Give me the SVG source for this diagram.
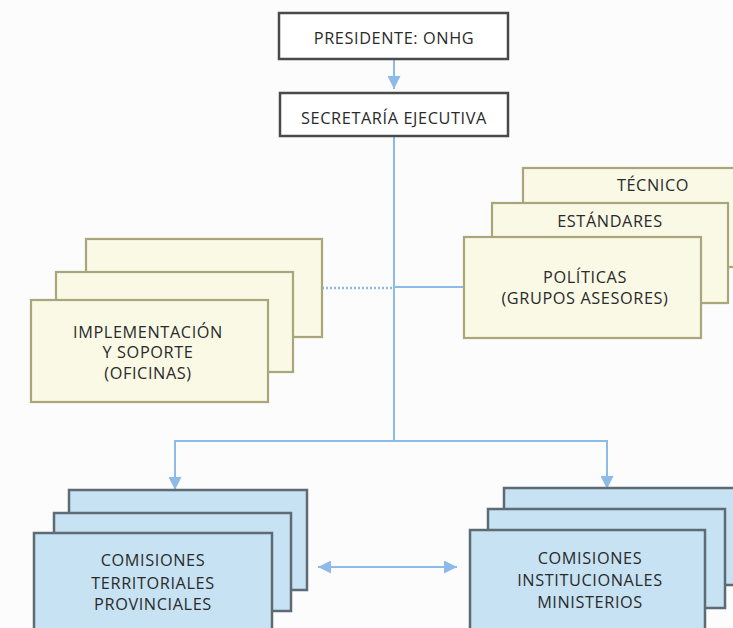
<svg xmlns="http://www.w3.org/2000/svg" width="733" height="628" viewBox="0 0 733 628">
<defs>
<style>
.top{fill:#ffffff;stroke:#4a4a4a;stroke-width:2.5}
.beige{fill:#f9f9e6;stroke:#aaa67c;stroke-width:2.2}
.blue{fill:#c6e2f3;stroke:#5e6a74;stroke-width:2.5}
.ln{fill:none;stroke:#8cbbea;stroke-width:2}
.dot{fill:none;stroke:#8cbbea;stroke-width:2.5;stroke-dasharray:2 2}
text{font-family:"Open Sans","Liberation Sans",sans-serif;font-size:16.3px;letter-spacing:0.6px;fill:#2a2a2a;text-anchor:middle}
</style>
<marker id="ahb" viewBox="0 0 10 10" refX="10" refY="5" markerWidth="14" markerHeight="13" orient="auto-start-reverse" markerUnits="userSpaceOnUse">
<path d="M0,0 L10,5 L0,10 Z" fill="#8cbbea"/>
</marker>
</defs>
<rect width="733" height="628" fill="#fbfcfb"/>
<g id="connectors">
<line class="ln" x1="394" y1="59" x2="394" y2="89" marker-end="url(#ahb)"/>
<line class="ln" x1="394" y1="136" x2="394" y2="441"/>
<line class="dot" x1="322" y1="288" x2="394" y2="288"/>
<line class="ln" x1="394" y1="287" x2="464" y2="287"/>
<polyline class="ln" points="175,475 175,441 607,441 607,475"/>
<line class="ln" x1="175" y1="470" x2="175" y2="490" marker-end="url(#ahb)"/>
<line class="ln" x1="607" y1="470" x2="607" y2="489" marker-end="url(#ahb)"/>
<line class="ln" x1="318" y1="567" x2="457" y2="567" marker-start="url(#ahb)" marker-end="url(#ahb)"/>
</g>
<g id="presidente">
<rect class="top" x="279" y="13" width="229" height="46"/>
<text x="394" y="44">PRESIDENTE: ONHG</text>
</g>
<g id="secretaria">
<rect class="top" x="280" y="93" width="228" height="43"/>
<text x="394" y="124">SECRETARÍA EJECUTIVA</text>
</g>
<g id="implementacion">
<rect class="beige" x="86" y="239" width="236" height="98"/>
<rect class="beige" x="56" y="272" width="237" height="100"/>
<rect class="beige" x="31" y="300" width="237" height="102"/>
<text x="148" y="338">IMPLEMENTACIÓN</text>
<text x="148" y="358">Y SOPORTE</text>
<text x="148" y="379">(OFICINAS)</text>
</g>
<g id="politicas">
<rect class="beige" x="523" y="168" width="220" height="99"/>
<rect class="beige" x="492" y="203" width="236" height="100"/>
<rect class="beige" x="464" y="237" width="237" height="101"/>
<text x="653" y="191">TÉCNICO</text>
<text x="610" y="227">ESTÁNDARES</text>
<text x="585" y="283">POLÍTICAS</text>
<text x="585" y="304">(GRUPOS ASESORES)</text>
</g>
<g id="territoriales">
<rect class="blue" x="69" y="490" width="238" height="100"/>
<rect class="blue" x="54" y="513" width="237" height="98"/>
<rect class="blue" x="34" y="533" width="238" height="110"/>
<text x="153" y="566">COMISIONES</text>
<text x="153" y="589">TERRITORIALES</text>
<text x="153" y="610">PROVINCIALES</text>
</g>
<g id="institucionales">
<rect class="blue" x="504" y="488" width="240" height="97"/>
<rect class="blue" x="488" y="509" width="237" height="99"/>
<rect class="blue" x="470" y="530" width="235" height="110"/>
<text x="590" y="564">COMISIONES</text>
<text x="590" y="586">INSTITUCIONALES</text>
<text x="590" y="608">MINISTERIOS</text>
</g>
</svg>
